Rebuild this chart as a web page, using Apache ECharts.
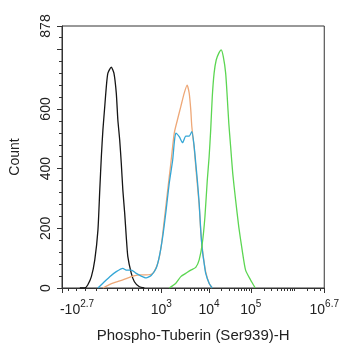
<!DOCTYPE html>
<html>
<head>
<meta charset="utf-8">
<script src="https://cdn.jsdelivr.net/npm/echarts@6/dist/echarts.min.js"></script>
<style>
html,body{margin:0;padding:0;background:#fff;}
#c{width:342px;height:350px;}
</style>
</head>
<body>
<div id="c"></div>
<script>
// Display channel (0..1000 along the biexponential axis) and Count values
const isotypeX = [68, 87, 98, 112, 125, 137, 144, 150, 156, 163, 169, 175, 188, 198, 207, 213, 220, 226, 232, 239, 245, 251, 264, 276, 295, 314];
const isotypeY = [0, 0, 10, 38, 94, 194, 328, 440, 530, 608, 675, 720, 740, 720, 653, 563, 496, 419, 328, 251, 172, 105, 50, 21, 4, 0];

const orangeX = [156, 194, 232, 264, 295, 321, 346, 365, 378, 390, 403, 415, 428, 440, 453, 466, 477, 485, 491, 495, 504, 511, 523, 530, 538, 548, 561, 573];
const orangeY = [0, 16, 27, 38, 44, 44, 49, 83, 138, 228, 328, 418, 519, 563, 608, 653, 680, 653, 597, 541, 469, 396, 278, 178, 111, 54, 16, 0];

const blueX = [137, 156, 182, 207, 232, 245, 264, 283, 302, 321, 340, 359, 371, 384, 397, 409, 422, 428, 434, 447, 460, 472, 485, 495, 504, 510, 516, 523, 529, 535, 542, 548, 561, 573];
const blueY = [0, 16, 38, 55, 66, 60, 60, 49, 40, 34, 42, 66, 105, 172, 261, 352, 429, 486, 519, 507, 487, 509, 509, 524, 474, 418, 362, 285, 194, 127, 83, 49, 16, 0];

const greenX = [409, 434, 453, 472, 491, 510, 523, 535, 545, 554, 561, 567, 573, 580, 588, 598, 607, 615, 624, 630, 636, 643, 651, 662, 674, 687, 700, 719, 737];
const greenY = [0, 16, 38, 49, 60, 69, 94, 150, 239, 362, 440, 530, 641, 720, 764, 787, 798, 775, 720, 641, 552, 474, 384, 295, 205, 127, 60, 27, 0];

// Axis tick definitions (fluorescence intensities)
const xMajorValues = [-Math.pow(10, 2.7), 1e3, 1e4, 1e5, Math.pow(10, 6.7)];
const xMajorBase = ['-10', '10', '10', '10', '10'];
const xMajorExp = ['2.7', '3', '4', '5', '6.7'];
const xMinorValues = [-500, -400, -300, -200, -100, 0, 100, 200, 300, 400, 500, 600, 700, 800, 900,
  2e3, 3e3, 4e3, 5e3, 6e3, 7e3, 8e3, 9e3, 2e4, 3e4, 4e4, 5e4, 6e4, 7e4, 8e4, 9e4,
  2e5, 3e5, 4e5, 5e5, 6e5, 7e5, 8e5, 9e5, 1e6, 2e6, 3e6, 4e6, 5e6];
const yMax = 878;
const yMajorInterval = 200;
const yMinorInterval = 40;
const xTitle = 'Phospho-Tuberin (Ser939)-H';
const yTitle = 'Count';

const ANCH = [[1e3, 378.8], [1e4, 560.6], [1e5, 719.7], [Math.pow(10, 6.7), 1000]];
function toChannel(v) {
  if (v >= 1e3) {
    for (let i = 0; i < ANCH.length - 1; i++) {
      const a = ANCH[i], b = ANCH[i + 1];
      if (v <= b[0] * 1.0000001 || i === ANCH.length - 2) {
        const t = (Math.log10(v) - Math.log10(a[0])) / (Math.log10(b[0]) - Math.log10(a[0]));
        return a[1] + t * (b[1] - a[1]);
      }
    }
  }
  if (v >= 0) return 174 + (378.8 - 174) * Math.asinh(v / 300) / Math.asinh(1000 / 300);
  return 174 - 174 * Math.asinh(-v / 300) / Math.asinh(Math.pow(10, 2.7) / 300);
}

const majorCh = xMajorValues.map(toChannel);
const minorCh = xMinorValues.map(toChannel);

function pairs(xs, ys) { return xs.map((x, i) => [x, ys[i]]); }

const FONT = 'Liberation Sans, Arial, sans-serif';
const TXT = '#222';
const AX = '#333';

const chart = echarts.init(document.getElementById('c'), null, {renderer: 'canvas'});
chart.setOption({
  animation: false,
  backgroundColor: '#fff',
  grid: {left: 62, top: 26, right: 16, bottom: 62, show: true, borderColor: AX, borderWidth: 1, backgroundColor: 'transparent'},
  xAxis: [{
    type: 'value', min: 0, max: 1000, position: 'bottom',
    axisLine: {show: true, lineStyle: {color: AX, width: 1}},
    axisTick: {show: true, length: 5, lineStyle: {color: AX}, customValues: majorCh},
    splitLine: {show: false},
    axisLabel: {
      customValues: majorCh, margin: 9, color: TXT, fontFamily: FONT, showMinLabel: true, showMaxLabel: true,
      formatter: function (v) {
        let k = 0, best = 1e9;
        majorCh.forEach((c, i) => { if (Math.abs(c - v) < best) { best = Math.abs(c - v); k = i; } });
        if (k === 0) return '{bl|' + xMajorBase[k] + '}{s|' + xMajorExp[k] + '}';
        return '{b|' + xMajorBase[k] + '}{s|' + xMajorExp[k] + '}';
      },
      rich: {
        b: {fontSize: 14, fontFamily: FONT, color: TXT, padding: [6, 0, 0, 0]},
        bl: {fontSize: 14, fontFamily: FONT, color: TXT, padding: [6, 0, 0, 30]},
        s: {fontSize: 10, fontFamily: FONT, color: TXT, padding: [0, 0, 6, 0]}
      }
    },
    name: xTitle, nameLocation: 'middle', nameGap: 40,
    nameTextStyle: {fontSize: 15, fontFamily: FONT, color: TXT}
  }, {
    type: 'value', min: 0, max: 1000, position: 'bottom',
    axisLine: {show: false},
    axisTick: {show: true, length: 3, lineStyle: {color: AX}, customValues: minorCh},
    axisLabel: {show: false},
    splitLine: {show: false}
  }],
  yAxis: [{
    type: 'value', min: 0, max: yMax, interval: yMajorInterval, position: 'left',
    axisLine: {show: true, lineStyle: {color: AX, width: 1}},
    axisTick: {show: true, length: 5, lineStyle: {color: AX}},
    splitLine: {show: false},
    axisLabel: {
      rotate: 90, margin: 9, fontSize: 14, fontFamily: FONT, color: TXT,
      showMaxLabel: true,
      formatter: function (v) { return (v === 800) ? '' : String(v); }
    },
    name: yTitle, nameLocation: 'middle', nameGap: 40,
    nameTextStyle: {fontSize: 14, fontFamily: FONT, color: TXT}
  }, {
    type: 'value', min: 0, max: yMax, interval: yMinorInterval, position: 'left',
    axisLine: {show: false},
    axisTick: {show: true, length: 3, lineStyle: {color: AX}},
    axisLabel: {show: false},
    splitLine: {show: false}
  }],
  series: [
    {type: 'line', name: 'Isotype', data: pairs(isotypeX, isotypeY), showSymbol: false, smooth: 0.2, lineStyle: {color: '#151515', width: 1.3}, z: 3},
    {type: 'line', name: 'Control', data: pairs(orangeX, orangeY), showSymbol: false, smooth: 0.2, lineStyle: {color: '#eea878', width: 1.3}, z: 3},
    {type: 'line', name: 'Treated', data: pairs(blueX, blueY), showSymbol: false, smooth: 0.2, lineStyle: {color: '#33a6d6', width: 1.3}, z: 4},
    {type: 'line', name: 'Antibody', data: pairs(greenX, greenY), showSymbol: false, smooth: 0.2, lineStyle: {color: '#5cd652', width: 1.3}, z: 4}
  ]
});
</script>
</body>
</html>
